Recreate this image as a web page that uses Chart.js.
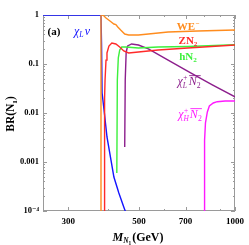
<!DOCTYPE html>
<html><head><meta charset="utf-8">
<script src="https://cdn.jsdelivr.net/npm/chart.js@4"></script>
<style>html,body{margin:0;padding:0;background:#fff}#c{display:block}</style>
</head><body>
<canvas id="c" width="249" height="245" style="width:249px;height:245px"></canvas>
<script>
// ---- data ----
const xTicks=[300,500,700,1000];
const xTickLabels=['300','500','700','1000'];
const xMinorTicks=[400,600,800,900];
const yTicks=[1e-4,1e-3,1e-2,1e-1,1];
const yTickLabels=['10\u207B\u2074','0.001','0.01','0.1','1'];

const massChiNu=[250,380,381.5,383,388.5,396.8,408.3,417.1,432.3,447.9,452.7,458];
const brChiNu=[1,1,0.25,0.0256,0.0115,0.00324,0.0011,0.000494,0.000233,0.000121,0.0001,0.00008];

const massWE=[380,380,385.5,394,405.5,417,423,429,438,451,464,498,535,617,763,1000];
const brWE=[0.00001,1,1,0.869,0.754,0.655,0.64,0.569,0.494,0.409,0.391,0.391,0.409,0.45,0.47,0.494];

const massZN=[390,390,391.3,394,396.8,402.4,411,423,435,448,464,498,574,711,1000];
const brZN=[0.00001,0.02,0.047,0.12,0.168,0.233,0.268,0.256,0.222,0.184,0.168,0.176,0.193,0.212,0.244];

const massHN=[426,427.6,430.6,435,441.4,454,498,574,711,1000];
const brHN=[0.000597,0.047,0.133,0.193,0.222,0.222,0.212,0.222,0.228,0.247];

const massChiL=[451,452.7,455.8,460.7,474,498,535,617,726,849,1000];
const brChiL=[0.00202,0.047,0.176,0.233,0.256,0.244,0.2026,0.12,0.0656,0.0373,0.0213];

const massChiH=[800,801.5,804,808,819,831,855,879.5,931,1000];
const brChiH=[0.00001,0.0015,0.0028,0.0063,0.0105,0.0139,0.016,0.017,0.0176,0.0176];

const C={blue:'#1414ff',orange:'#ff8c1e',red:'#ff2a2a',green:'#3cf03c',purple:'#8c1e8c',magenta:'#ff19ff'};
const SERIF='"Liberation Serif","DejaVu Serif",serif';

function pts(m,b){return m.map((v,i)=>({x:v,y:b[i]}));}
function ds(m,b,col){return {data:pts(m,b),borderColor:col,borderWidth:1.4,pointRadius:0,tension:0,fill:false};}

// rich text: parts {t, s(size factor), it, bd, dy(factor), over, stack:[sup,sub]}
function font(sz,it,bd){return (it?'italic ':'')+(bd?'bold ':'')+sz+'px '+SERIF;}
function measureParts(ctx,parts,size){
  let w=0;
  for(const p of parts){
    if(p.stack){
      const s=size*0.62;
      ctx.font=font(s,p.it,p.bd);
      p._w=Math.max(ctx.measureText(p.stack[0]).width,ctx.measureText(p.stack[1]).width);
    } else {
      const s=size*(p.s||1);
      ctx.font=font(s,p.it,p.bd);
      p._w=ctx.measureText(p.t).width;
    }
    w+=p._w+(p.gap||0);
  }
  return w;
}
function drawParts(ctx,parts,cx,base,size,color){
  const w=measureParts(ctx,parts,size);
  let x=cx-w/2;
  ctx.fillStyle=color;ctx.strokeStyle=color;ctx.textBaseline='alphabetic';ctx.textAlign='left';
  for(const p of parts){
    if(p.stack){
      const s=size*0.62;
      ctx.font=font(s,p.it,p.bd);
      ctx.fillText(p.stack[0],x,base-size*0.42);
      ctx.fillText(p.stack[1],x,base+size*0.22);
    } else {
      const s=size*(p.s||1);
      ctx.font=font(s,p.it,p.bd);
      const y=base+(p.dy||0)*size;
      ctx.fillText(p.t,x,y);
      if(p.over){
        ctx.lineWidth=0.9;ctx.beginPath();
        ctx.moveTo(x+0.5,y-s*0.78);ctx.lineTo(x+p._w+(p.overExtra||0),y-s*0.78);ctx.stroke();
      }
    }
    x+=p._w+(p.gap||0);
  }
}

const decor={
  id:'decor',
  beforeDatasetsDraw(chart){
    const ctx=chart.ctx,a=chart.chartArea,xs=chart.scales.x,ys=chart.scales.y;
    ctx.save();
    ctx.strokeStyle='#9a9a9a';ctx.lineWidth=1;
    ctx.strokeRect(a.left+0.5,a.top+0.5,a.right-a.left-1,a.bottom-a.top-1);
    ctx.beginPath();
    const tick=(v,len)=>{const px=Math.round(xs.getPixelForValue(v))+0.5;
      ctx.moveTo(px,a.bottom);ctx.lineTo(px,a.bottom-len);ctx.moveTo(px,a.top);ctx.lineTo(px,a.top+len);};
    xTicks.forEach(v=>tick(v,4));xMinorTicks.forEach(v=>tick(v,2));
    const ytick=(v,len)=>{const py=Math.round(ys.getPixelForValue(v))+0.5;
      ctx.moveTo(a.left,py);ctx.lineTo(a.left+len,py);ctx.moveTo(a.right,py);ctx.lineTo(a.right-len,py);};
    yTicks.forEach(v=>ytick(v,4));
    for(let d=-4;d<0;d++){for(let k=2;k<10;k++){ytick(k*Math.pow(10,d),2);}}
    ctx.stroke();
    ctx.restore();
  },
  afterDatasetsDraw(chart){
    const ctx=chart.ctx;
    ctx.save();
    drawParts(ctx,[{t:'(a)',bd:1}],54,35,11,'#000');
    drawParts(ctx,[{t:'\u03C7',it:1},{t:'L',it:1,s:0.65,dy:0.2,gap:1},{t:'\u03BD',it:1}],82,35,12,C.blue);
    drawParts(ctx,[{t:'WE',bd:1},{t:'\u2212',bd:1,s:0.65,dy:-0.4}],188,30,11,C.orange);
    drawParts(ctx,[{t:'ZN',bd:1},{t:'2',bd:1,s:0.65,dy:0.22}],188,44,11,C.red);
    drawParts(ctx,[{t:'hN',bd:1},{t:'2',bd:1,s:0.65,dy:0.22}],188,60,11,C.green);
    drawParts(ctx,[{t:'\u03C7',it:1},{stack:['+','L'],it:1,gap:1},{t:'N',it:1,over:1,overExtra:4},{t:'2',s:0.65,dy:0.22}],189,85,12,C.purple);
    drawParts(ctx,[{t:'\u03C7',it:1},{stack:['+','H'],it:1,gap:1},{t:'N',it:1,over:1,overExtra:4},{t:'2',s:0.65,dy:0.22}],190,118,12,C.magenta);
    // axis titles
    drawParts(ctx,[{t:'M',it:1,bd:1},{t:'N',it:1,bd:1,s:0.62,dy:0.2},{t:'1',bd:1,s:0.45,dy:0.3,gap:1},{t:'(GeV)',bd:1}],138,241,12,'#000');
    ctx.translate(14,114);ctx.rotate(-Math.PI/2);
    drawParts(ctx,[{t:'BR(N',bd:1},{t:'1',bd:1,s:0.62,dy:0.22},{t:')',bd:1}],0,0,11.5,'#000');
    ctx.restore();
  }
};

new Chart(document.getElementById('c'),{
  type:'line',
  data:{datasets:[
    ds(massWE,brWE,C.orange),
    ds(massZN,brZN,C.red),
    ds(massHN,brHN,C.green),
    ds(massChiL,brChiL,C.purple),
    ds(massChiH,brChiH,C.magenta),
    ds(massChiNu,brChiNu,C.blue)
  ]},
  options:{
    responsive:false,animation:false,devicePixelRatio:1,
    layout:{padding:{top:15,right:11,left:0,bottom:0}},
    plugins:{legend:{display:false},tooltip:{enabled:false}},
    scales:{
      x:{type:'logarithmic',min:250,max:1000,
        grid:{display:false,drawTicks:false},border:{display:false},
        ticks:{font:{family:SERIF,size:9,weight:'bold'},color:'#000',padding:5,maxRotation:0,autoSkip:false,
          callback:(v)=>{const i=xTicks.indexOf(v);return i>=0?xTickLabels[i]:'';}},
        afterBuildTicks:s=>{s.ticks=xTicks.map(v=>({value:v}));},
        afterFit:s=>{s.height=34;}},
      y:{type:'logarithmic',min:1e-4,max:1,
        grid:{display:false,drawTicks:false},border:{display:false},
        ticks:{font:{family:SERIF,size:8.5,weight:'bold'},color:'#000',padding:4,autoSkip:false,
          callback:(v)=>{const i=yTicks.findIndex(t=>Math.abs(t-v)/t<1e-6);return i>=0?yTickLabels[i]:'';}},
        afterBuildTicks:s=>{s.ticks=yTicks.map(v=>({value:v}));},
        afterFit:s=>{s.width=43;}}
    }
  },
  plugins:[decor]
});
</script>
</body></html>
